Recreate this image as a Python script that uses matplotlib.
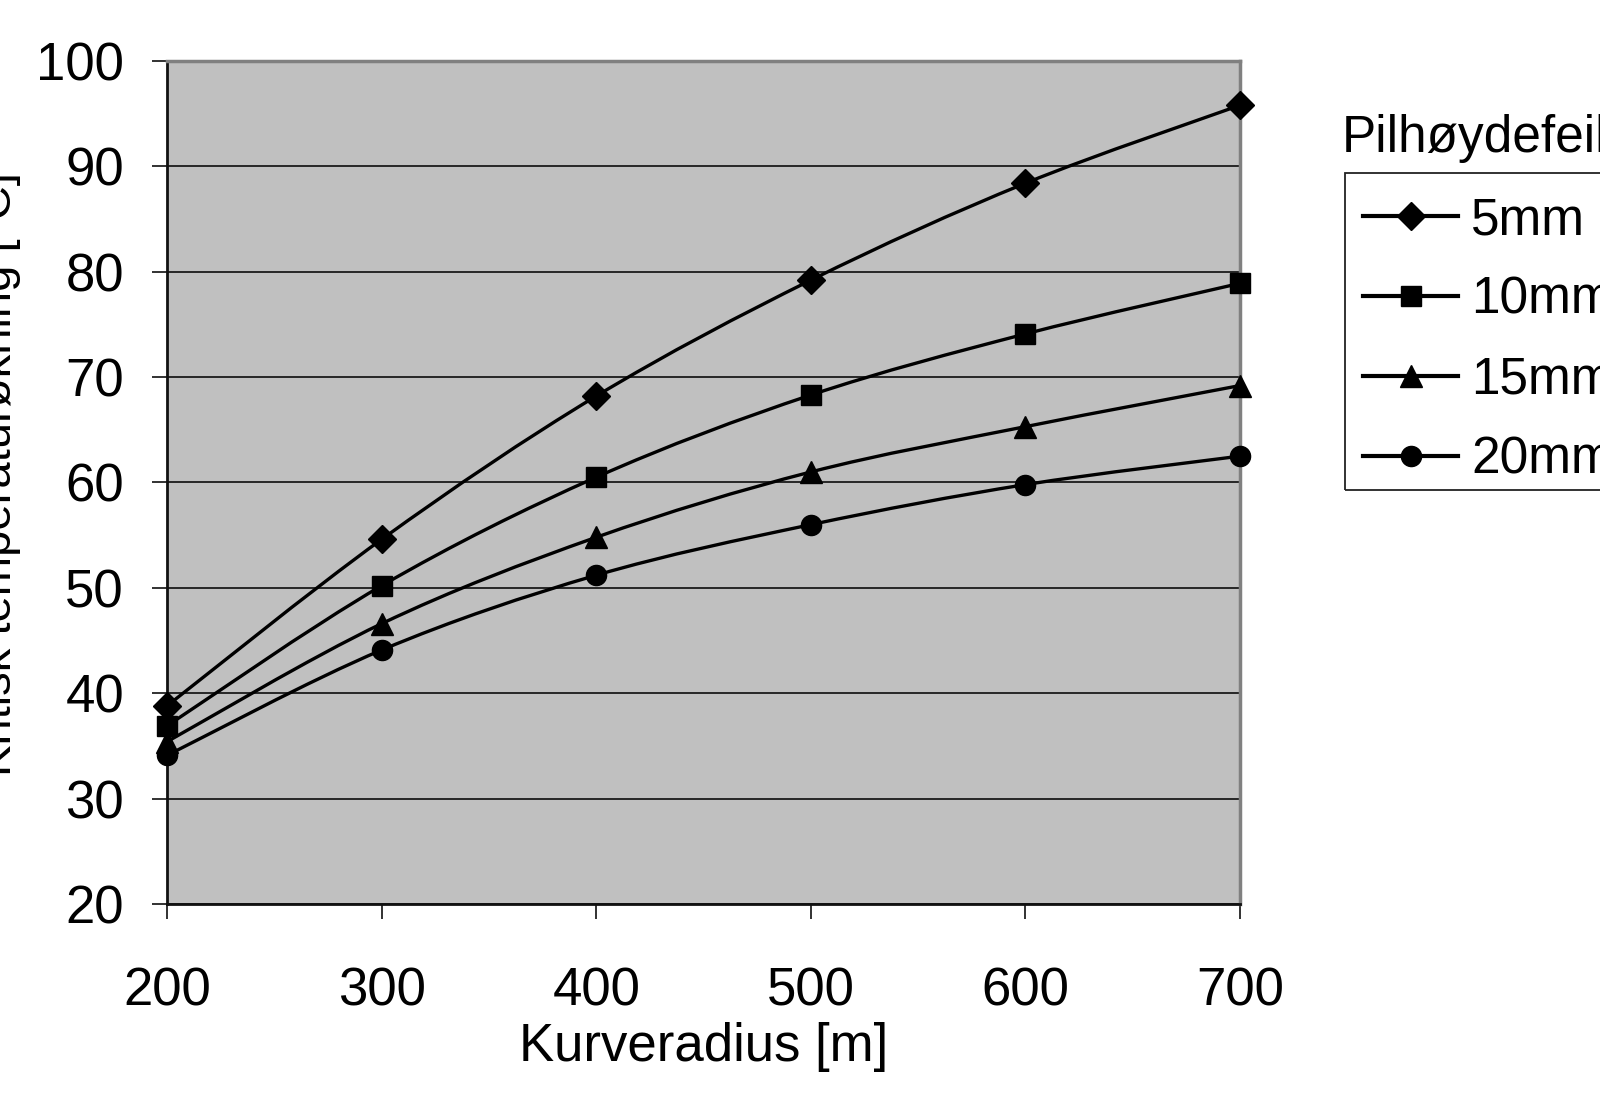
import numpy as np
import matplotlib.pyplot as plt
from matplotlib.lines import Line2D
from matplotlib.path import Path
from matplotlib.patches import PathPatch, Rectangle

plt.rcParams['font.family'] = ['Liberation Sans', 'DejaVu Sans']

# data
radius = [200, 300, 400, 500, 600, 700]
temp_5mm = [38.8, 54.6, 68.2, 79.2, 88.4, 95.8]
temp_10mm = [36.9, 50.2, 60.5, 68.3, 74.1, 78.9]
temp_15mm = [35.4, 46.6, 54.8, 61.0, 65.3, 69.2]
temp_20mm = [34.1, 44.1, 51.2, 56.0, 59.8, 62.5]
series_labels = ["5mm", "10mm", "15mm", "20mm"]
y_ticks = [20, 30, 40, 50, 60, 70, 80, 90, 100]

FS = 38


def smooth_path(xs, ys):
    # excel style "smoothed line": cubic bezier segments through the points
    pts = np.column_stack([xs, ys]).astype(float)
    n = len(pts)
    verts = [pts[0]]
    codes = [Path.MOVETO]
    for i in range(n - 1):
        p0 = pts[max(i - 1, 0)]
        p1 = pts[i]
        p2 = pts[i + 1]
        p3 = pts[min(i + 2, n - 1)]
        verts += [p1 + (p2 - p0) / 6, p2 - (p3 - p1) / 6, p2]
        codes += [Path.CURVE4] * 3
    return Path(verts, codes)


fig = plt.figure(figsize=(16, 11.16), dpi=100)
ax = fig.add_axes([167 / 1600, 1 - 904 / 1116, (1240 - 167) / 1600, (904 - 61) / 1116])
ax.set_facecolor("#c0c0c0")

series = [temp_5mm, temp_10mm, temp_15mm, temp_20mm]
markers = ["D", "s", "^", "o"]
msizes = [14, 15, 16, 14.5]
LW = 2.4
handles = []
for vals, m, ms, lab in zip(series, markers, msizes, series_labels):
    ax.add_patch(PathPatch(smooth_path(radius, vals), fill=False, ec="black",
                           lw=LW, zorder=3, clip_on=False))
    ax.plot(radius, vals, ls="none", color="black", marker=m, markersize=ms,
            zorder=4, clip_on=False)
    handles.append(Line2D([], [], color="black", lw=LW + 0.6, marker=m,
                          markersize=ms, label=lab))

ax.set_xlim(200, 700)
ax.set_ylim(20, 100)
ax.set_xticks(radius)
ax.set_yticks(y_ticks)
ax.grid(axis="y", color="#1a1a1a", lw=1.3)
ax.set_axisbelow(True)

for s in ["left", "bottom"]:
    ax.spines[s].set_color("#111111")
    ax.spines[s].set_linewidth(2)
for s in ["top", "right"]:
    ax.spines[s].set_color("#808080")
    ax.spines[s].set_linewidth(2.5)

ax.tick_params(axis="both", labelsize=FS, length=11, width=1.3, color="#222222")
ax.tick_params(axis="x", pad=34)
ax.tick_params(axis="y", pad=20)

ax.set_xlabel("Kurveradius [m]", fontsize=FS, labelpad=4)
fig.text(21 / 1600, 1 - 474 / 1116, "Kritisk temperaturøkning [°C]", rotation=90,
         ha="right", va="center", fontsize=34)

# legend: title sits above the frame, frame drawn by hand (runs off the right edge)
fig.text(1342 / 1600, 1 - 152 / 1116, "Pilhøydefeil", fontsize=FS - 1,
         ha="left", va="baseline")
ax.legend(handles=handles, loc="upper left",
          bbox_to_anchor=(1340 / 1600, 1 - 173 / 1116),
          bbox_transform=fig.transFigure, borderaxespad=0, fontsize=FS - 1,
          frameon=False, handlelength=1.85, handletextpad=0.25,
          labelspacing=0.6, borderpad=0.45)
fig.patches.append(Rectangle((1345 / 1600, 1 - 490 / 1116), 300 / 1600, 317 / 1116,
                             transform=fig.transFigure, fill=False,
                             ec="#222222", lw=1.3))

fig.savefig("out.png", dpi=100)
